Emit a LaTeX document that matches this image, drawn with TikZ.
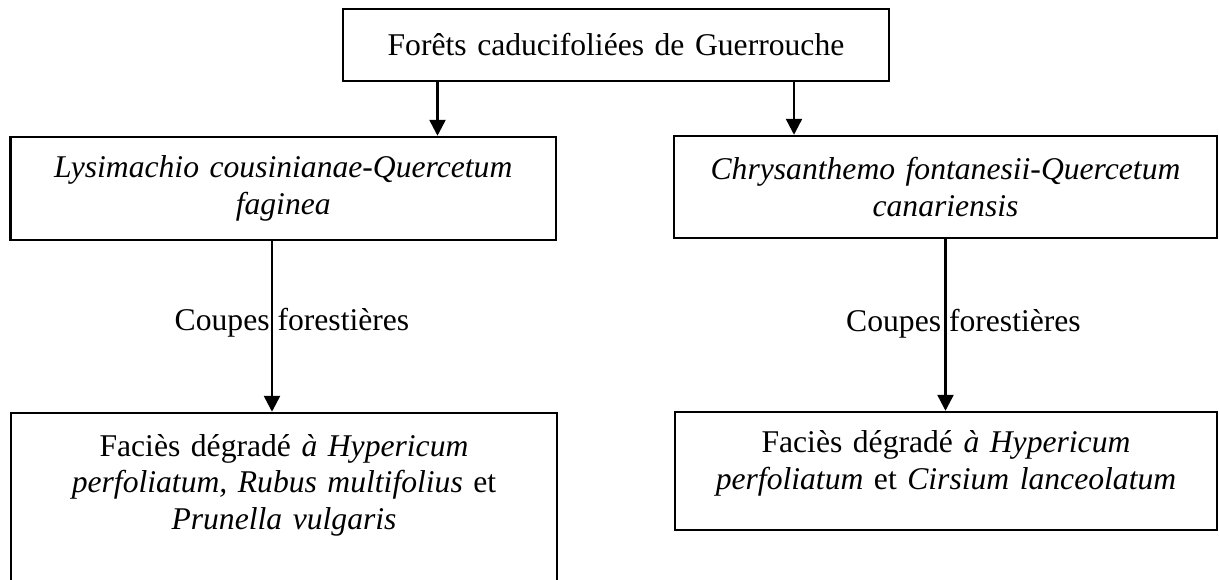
\documentclass[tikz,border=0pt]{standalone}
\usepackage{fontspec}
\setmainfont{Liberation Serif}
\usetikzlibrary{arrows.meta}
\begin{document}
\begin{tikzpicture}[font=\fontsize{18}{20.8}\selectfont]
        \tikzstyle{boite}=[draw, line width=1.4pt, inner sep=0pt, align=center]
        \tikzstyle{fleche}=[line width=1.4pt, -{Triangle[width=0.32cm, length=0.32cm]}]
        \clip (0,0) rectangle (24.38,-11.6);
        % niveau 1
        \node[boite, text width=10.92cm, minimum height=1.44cm] (foret) at (12.32,-0.9) {For\^ets caducifoli\'ees de Guerrouche};
        % niveau 2
        \node[boite, text width=10.91cm, minimum height=2.06cm] (lysimachio) at (5.665,-3.77) {\emph{Lysimachio cousinianae-Quercetum}\\ \emph{faginea}};
        \node[boite, text width=10.86cm, minimum height=2.04cm] (chrysanthemo) at (18.91,-3.74) {\emph{Chrysanthemo fontanesii-Quercetum}\\ \emph{canariensis}};
        % niveau 3
        \node[boite, text width=10.92cm, minimum height=3.48cm] (faciesA) at (5.68,-10.0) {Faci\`es d\'egrad\'e \emph{\`a Hypericum}\\ \emph{perfoliatum, Rubus multifolius} et\\ \emph{Prunella vulgaris}\\ \mbox{}};
        \node[boite, text width=10.84cm, minimum height=2.36cm] (faciesB) at (18.92,-9.42) {Faci\`es d\'egrad\'e \emph{\`a Hypericum}\\ \emph{perfoliatum} et \emph{Cirsium lanceolatum}\\[-0.3cm] \mbox{}};
        % fleches
        \draw[fleche] ([xshift=-3.57cm]foret.south) -- ([xshift=-3.57cm]foret.south |- lysimachio.north);
        \draw[fleche] ([xshift=3.56cm]foret.south) -- ([xshift=3.56cm]foret.south |- chrysanthemo.north);
        \draw[fleche] ([xshift=-0.225cm]lysimachio.south) -- node[pos=0.48, xshift=0.4cm] (coupesA) {Coupes foresti\`eres} ([xshift=-0.225cm]lysimachio.south |- faciesA.north);
        \draw[fleche] (chrysanthemo.south) -- node[pos=0.49, xshift=0.36cm] (coupesB) {Coupes foresti\`eres} (chrysanthemo.south |- faciesB.north);
    \end{tikzpicture}
\end{document}
